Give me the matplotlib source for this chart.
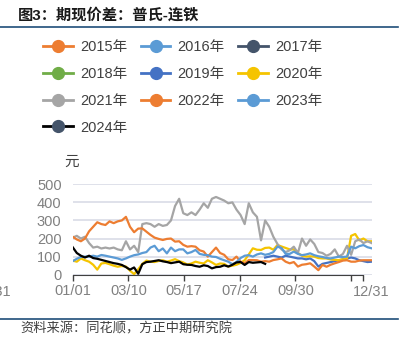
"""
期现价差：普氏-连铁 (seasonal chart, one line per year).
"""

import matplotlib
matplotlib.use("Agg")
import matplotlib.pyplot as plt
from matplotlib.lines import Line2D

plt.rcParams['font.family'] = ['Liberation Sans', 'Noto Sans CJK SC']

# day-of-year grid (every 5 days)
days = list(range(0, 366, 5))

years = ['2015年', '2016年', '2017年', '2018年', '2019年',
         '2020年', '2021年', '2022年', '2023年', '2024年']
line_colors = ['#ED7D31', '#5B9BD5', '#44546A', '#70AD47', '#4472C4',
               '#F5C400', '#A5A5A5', '#ED7D31', '#5B9BD5', '#000000']
marker_colors = ['#ED7D31', '#5B9BD5', '#44546A', '#70AD47', '#4472C4',
                 '#F5C400', '#A5A5A5', '#ED7D31', '#5B9BD5', '#44546A']

v2019 = [95, 100, 105, 100, 95, 105, 100, 95, 90, 90,
         85, 90, 75, 45, 60, 65, 70, 75, 80, 85,
         90, 95, 90, 80, 75, 70, 72]
v2020 = [78, 72, 90, 80, 72, 55, 28, 62, 65, 58,
         50, 44, 48, 45, 22, 3, 30, 60, 78, 72,
         70, 76, 80, 72, 78, 86, 75, 68, 56, 62,
         72, 66, 62, 80, 68, 54, 62, 60, 45, 50,
         55, 65, 80, 112, 146, 138, 137, 148, 150, 138,
         164, 156, 148, 140, 140, 120, 105, 100, 102, 100,
         92, 90, 90, 84, 82, 81, 85, 90, 215, 225,
         190, 200, 185, 185]
v2021 = [205, 215, 200, 210, 175, 150, 155, 145, 150, 145,
         150, 140, 135, 185, 140, 160, 125, 280, 285, 280,
         265, 280, 270, 275, 300, 380, 420, 340, 330, 345,
         330, 360, 395, 370, 420, 430, 420, 410, 395, 400,
         360, 330, 280, 395, 345, 320, 190, 300, 265, 210,
         170, 140, 125, 135, 155, 120, 200, 160, 195, 170,
         125, 120, 105, 115, 140, 100, 115, 160, 110, 185,
         195, 175, 185, 175]
v2022 = [210, 195, 185, 200, 240, 265, 290, 280, 275, 295,
         285, 295, 300, 320, 265, 235, 255, 256, 238, 220,
         205, 198, 192, 198, 200, 183, 185, 165, 155, 158,
         155, 135, 128, 100, 125, 150, 120, 110, 85, 81,
         100, 72, 63, 81, 81, 80, 72, 75, 72, 81,
         85, 90, 72, 63, 70, 45, 55, 58, 63, 45,
         25, 54, 44, 55, 63, 70, 78, 80, 72, 72,
         78, 80, 80, 80]
v2023 = [75, 88, 98, 100, 100, 105, 100, 109, 105, 100,
         95, 90, 82, 90, 100, 108, 112, 120, 125, 150,
         160, 130, 145, 118, 150, 130, 140, 140, 118, 125,
         137, 115, 110, 108, 100, 98, 88, 80, 72, 58,
         70, 92, 105, 108, 100, 112, 118, 110, 115, 125,
         155, 148, 115, 115, 128, 115, 108, 112, 118, 108,
         102, 98, 92, 90, 95, 100, 98, 100, 155, 146,
         158, 164, 152, 146]
v2024 = [152, 120, 105, 95, 105, 92, 88, 82, 76, 70,
         64, 60, 54, 42, 28, 40, 5, 58, 70, 72,
         76, 80, 74, 70, 64, 68, 72, 58, 55, 54,
         48, 44, 52, 48, 35, 42, 44, 52, 45, 55,
         68, 70, 54, 70, 66, 68, 70, 60]

tick_days = [0, 68, 136, 204, 272, 340, 354]
tick_labels = ['01/01', '03/10', '05/17', '07/24', '09/30', '', '']

W, H = 410, 358
fig = plt.figure(figsize=(W / 100, H / 100), dpi=100)
ax = fig.add_axes([72.7 / W, 83.3 / H, 298.9 / W, 90.4 / H])

# drawing order follows the legend: later years on top
series = [(days[47:], v2019, 4), (days, v2020, 5), (days, v2021, 6),
          (days, v2022, 7), (days, v2023, 8), (days[:len(v2024)], v2024, 9)]
for x, y, i in series:
    ax.plot(x, y, color=line_colors[i], lw=1.6, solid_joinstyle='round')

ax.set_xlim(0, 365)
ax.set_ylim(0, 500)
ax.set_yticks([0, 100, 200, 300, 400, 500])
ax.yaxis.grid(True, color='#d9dce6', lw=1.2)
ax.set_axisbelow(True)
for s in ['top', 'right', 'left']:
    ax.spines[s].set_visible(False)
ax.spines['bottom'].set_color('#404040')
ax.spines['bottom'].set_bounds(0, 354)
ax.set_xticks(tick_days)
ax.set_xticklabels(tick_labels)
ax.tick_params(axis='x', direction='out', length=4, width=1, color='#404040',
               labelcolor='#808080', labelsize=10.5, pad=3)
ax.tick_params(axis='y', length=0, pad=8, labelcolor='#808080', labelsize=10.5)
ax.text(364, -0.19, '12/31', transform=ax.get_xaxis_transform(),
        ha='center', va='center', fontsize=10.5, color='#808080')

# cut-off label from the neighbouring chart
fig.text(11 / W, 1 - 291.7 / H, '12/31', ha='right', va='center',
         fontsize=10.5, color='#808080')
fig.text(72 / W, 1 - 161.7 / H, '元', ha='center', va='center',
         fontsize=10.5, color='#404040')

fig.text(18 / W, 1 - 15 / H, '图3：期现价差：普氏-连铁', fontsize=11,
         fontweight='bold', va='center', color='#1a1a1a')
fig.text(20 / W, 1 - 329.3 / H, '资料来源：同花顺，方正中期研究院',
         fontsize=9.5, style='italic', va='center', color='#404040')
for yy in [26.7, 319.3]:
    fig.add_artist(Line2D([0, 398 / W], [1 - yy / H] * 2, color='#1f4e79',
                          lw=1.2, transform=fig.transFigure))

handles = [Line2D([], [], color=line_colors[i], lw=2, marker='o',
                  markersize=8.5, markerfacecolor=marker_colors[i],
                  markeredgecolor=marker_colors[i]) for i in range(len(years))]
# legend fills column-first, reorder so it reads row by row
order = [0, 3, 6, 9, 1, 4, 7, 2, 5, 8]
fig.legend([handles[i] for i in order], [years[i] for i in order], ncol=3,
           loc='upper left', bbox_to_anchor=(43 / W, 1 - 40.5 / H),
           frameon=False, fontsize=10.5, handlelength=2.05,
           handletextpad=0.5, columnspacing=0.9, labelspacing=0.87,
           borderpad=0, borderaxespad=0, labelcolor='#404040')

fig.savefig('out.png', dpi=100)
